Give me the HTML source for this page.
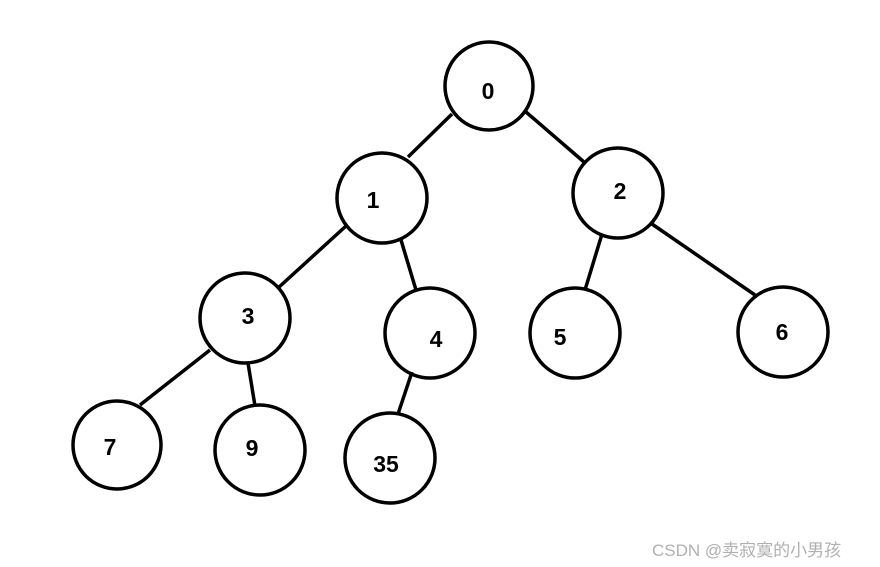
<!DOCTYPE html>
<html><head><meta charset="utf-8"><style>
html,body{margin:0;padding:0;background:#fff;}
svg{display:block;}
</style></head><body>
<svg width="880" height="567" xmlns="http://www.w3.org/2000/svg">
<rect width="880" height="567" fill="#fff"/>
<g stroke="#000" stroke-width="3.5" fill="none">
<line x1="452" y1="114" x2="408" y2="157"/>
<line x1="526" y1="112" x2="584" y2="162"/>
<line x1="346" y1="226" x2="278" y2="288"/>
<line x1="401" y1="240" x2="416" y2="290"/>
<line x1="602" y1="234" x2="585" y2="290"/>
<line x1="652" y1="224" x2="755" y2="295"/>
<line x1="210" y1="350" x2="140" y2="405"/>
<line x1="248" y1="363" x2="255" y2="406"/>
<line x1="412" y1="372" x2="398" y2="414"/>
<circle cx="489" cy="86" r="44"/>
<circle cx="382" cy="198" r="45"/>
<circle cx="618" cy="193" r="45"/>
<circle cx="245" cy="318" r="45"/>
<circle cx="430" cy="333" r="45"/>
<circle cx="575" cy="333" r="45"/>
<circle cx="783" cy="332" r="45"/>
<circle cx="117" cy="445" r="44"/>
<circle cx="260" cy="450" r="45"/>
<circle cx="390" cy="458" r="45"/>
</g>
<g font-family="Liberation Sans, sans-serif" font-weight="bold" font-size="23" text-anchor="middle" fill="#000">
<text x="488" y="99">0</text>
<text x="373" y="208">1</text>
<text x="620" y="199">2</text>
<text x="248" y="324">3</text>
<text x="436" y="347">4</text>
<text x="560" y="345">5</text>
<text x="782" y="340">6</text>
<text x="110" y="455">7</text>
<text x="252" y="456">9</text>
<text x="386" y="472">35</text>
</g>
<text x="652" y="556" font-family="Liberation Sans, Noto Sans CJK SC, sans-serif" font-size="17" fill="#b0b0b0">CSDN @卖寂寞的小男孩</text>
</svg>
</body></html>
